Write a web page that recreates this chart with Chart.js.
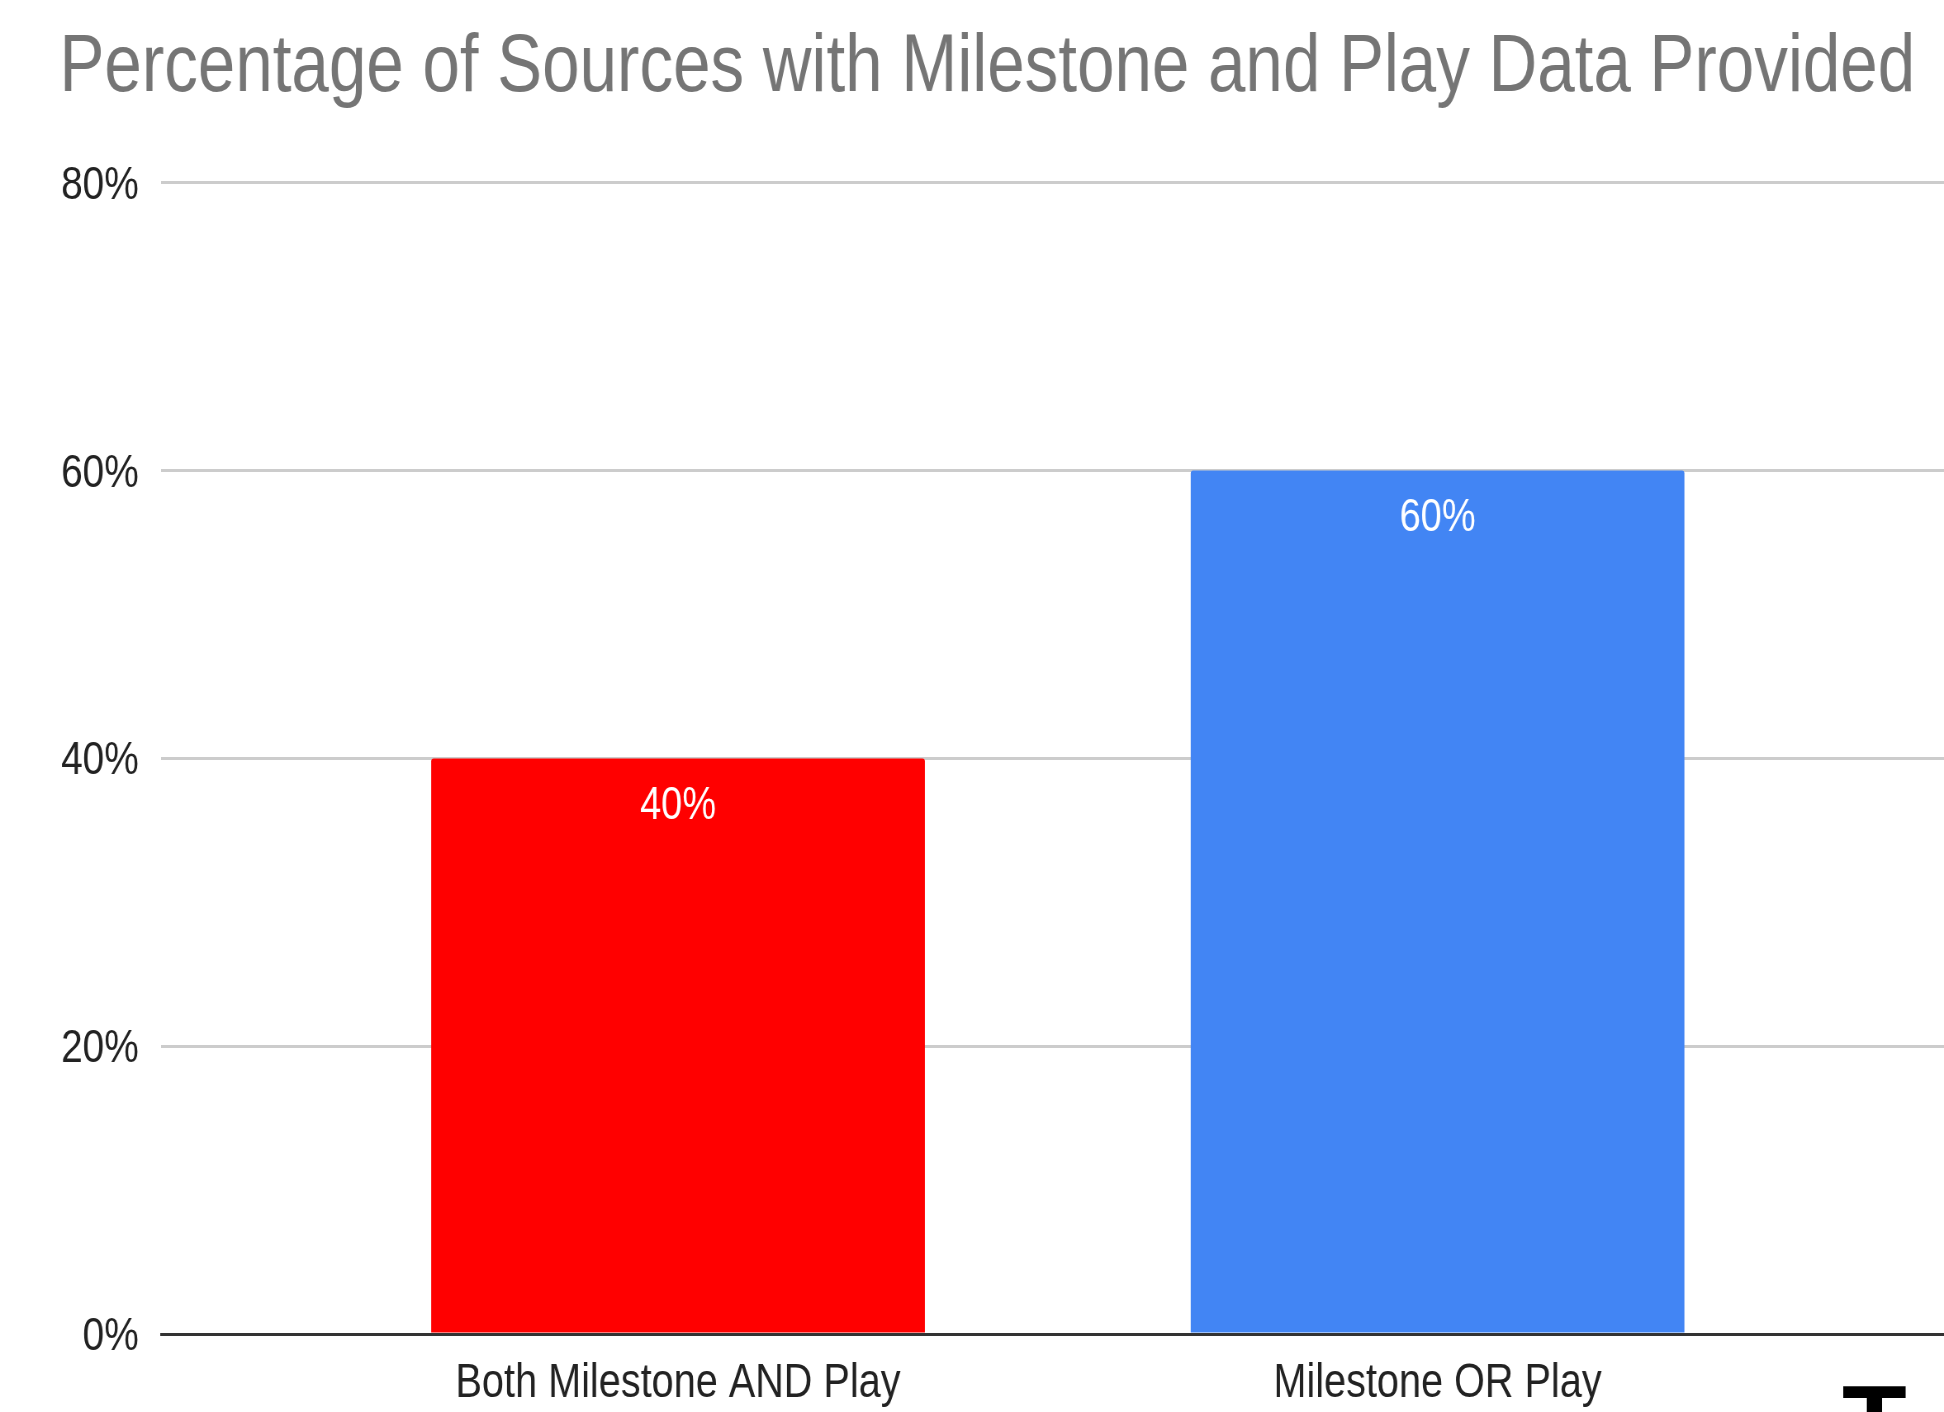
<!DOCTYPE html>
<html>
<head>
<meta charset="utf-8">
<script src="https://cdn.jsdelivr.net/npm/chart.js@4"></script>
<style>
  body { margin: 0; background: #fff; overflow: hidden; }
  #wrap { position: relative; width: 1944px; height: 1412px; overflow: hidden; }
  #myChart { display: block; }
  #edge { position: absolute; left: 1842px; top: 1369px; font: bold 106px 'Liberation Sans', Arial, sans-serif; line-height: 1; color: #000; }
</style>
</head>
<body>
<div id="wrap">
  <!-- drawn wider, then squeezed to 1944px like the narrow source screenshot -->
  <canvas id="myChart" width="2354" height="1412" style="width:1944px;height:1412px"></canvas>
  <div id="edge">T</div>
</div>
<script>
const categories = ['Both Milestone AND Play', 'Milestone OR Play'];
const values = [40, 60];
const barColors = ['#ff0000', '#4285f4'];
const yTicks = [0, 20, 40, 60, 80];

const fontFamily = "'Liberation Sans', Arial, sans-serif";
Chart.defaults.font.family = fontFamily;

// value labels inside the top of each bar
const barLabels = {
    id: 'barLabels',
    afterDatasetsDraw(chart) {
        const ctx = chart.ctx;
        const meta = chart.getDatasetMeta(0);
        ctx.save();
        ctx.font = '46px ' + fontFamily;
        ctx.fillStyle = '#ffffff';
        ctx.textAlign = 'center';
        ctx.textBaseline = 'middle';
        meta.data.forEach((bar, i) => {
            ctx.fillText(values[i] + '%', bar.x, bar.y + 48);
        });
        ctx.restore();
    }
};

const data = {
    datasets: [{
        data: categories.map((c, i) => ({ x: i, y: values[i] })),
        backgroundColor: barColors,
        borderRadius: 3,
        borderSkipped: 'bottom',
        categoryPercentage: 1,
        barPercentage: 0.65
    }]
};

const config = {
    type: 'bar',
    data: data,
    plugins: [barLabels],
    options: {
        responsive: false,
        devicePixelRatio: 1,
        animation: false,
        layout: { padding: { left: 72, right: 0, top: 0, bottom: 0 } },
        plugins: {
            legend: { display: false },
            tooltip: { enabled: false },
            title: {
                display: true,
                text: 'Percentage of Sources with Milestone and Play Data Provided',
                align: 'start',
                color: '#757575',
                font: { size: 81.5, weight: 'normal' },
                padding: { top: 20, bottom: 65 }
            }
        },
        scales: {
            x: {
                type: 'linear',
                offset: false,
                min: -0.6807,
                max: 1.6668,
                afterBuildTicks: axis => { axis.ticks = categories.map((c, i) => ({ value: i })); },
                afterFit: axis => { axis.height = 78; },
                ticks: {
                    callback: v => categories[v],
                    color: '#222',
                    font: { size: 48 },
                    padding: 21,
                    maxRotation: 0,
                    autoSkip: false
                },
                grid: { display: false, drawTicks: false },
                border: { display: true, color: '#333', width: 3 }
            },
            y: {
                min: 0,
                max: 80,
                afterBuildTicks: axis => { axis.ticks = yTicks.map(v => ({ value: v })); },
                afterFit: axis => { axis.width = 123; },
                ticks: {
                    callback: v => v + '%',
                    color: '#222',
                    font: { size: 47 },
                    padding: 27,
                    labelOffset: 3
                },
                grid: {
                    color: ctx => ctx.tick && ctx.tick.value === 0 ? '#333' : '#cccccc',
                    lineWidth: 3,
                    drawTicks: false
                },
                border: { display: false }
            }
        }
    }
};

document.addEventListener('DOMContentLoaded', (event) => {
    const myChart = new Chart(
        document.getElementById('myChart'),
        config
    );
});
</script>
</body>
</html>
